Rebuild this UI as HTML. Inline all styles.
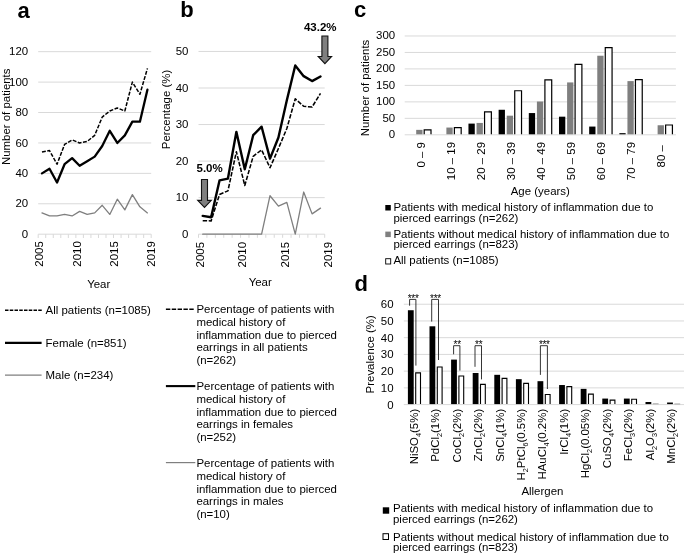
<!DOCTYPE html>
<html lang="en"><head><meta charset="utf-8"><title>Figure</title>
<style>
html,body{margin:0;padding:0;background:#fff;}
body{width:685px;height:557px;overflow:hidden;}
svg{display:block;will-change:transform;transform:translateZ(0);font-family:'Liberation Sans', Arial, sans-serif;fill:#000;}
svg text{fill:#000;}
</style></head><body>
<svg width="685" height="557" viewBox="0 0 685 557" font-family="&quot;Liberation Sans&quot;, Arial, sans-serif">
<rect x="0" y="0" width="685" height="557" fill="#fff"/>
<text x="17.60" y="17.60" text-anchor="start" font-size="22" font-weight="bold" >a</text>
<text x="180.30" y="17.30" text-anchor="start" font-size="22" font-weight="bold" >b</text>
<text x="354.00" y="16.70" text-anchor="start" font-size="22" font-weight="bold" >c</text>
<text x="354.40" y="290.60" text-anchor="start" font-size="22" font-weight="bold" >d</text>
<line x1="38.20" y1="234.20" x2="151.20" y2="234.20" stroke="#d9d9d9" stroke-width="1"/>
<text x="28.20" y="237.90" text-anchor="end" font-size="11.45" font-weight="normal" >0</text>
<line x1="38.20" y1="203.78" x2="151.20" y2="203.78" stroke="#d9d9d9" stroke-width="1"/>
<text x="28.20" y="207.48" text-anchor="end" font-size="11.45" font-weight="normal" >20</text>
<line x1="38.20" y1="173.36" x2="151.20" y2="173.36" stroke="#d9d9d9" stroke-width="1"/>
<text x="28.20" y="177.06" text-anchor="end" font-size="11.45" font-weight="normal" >40</text>
<line x1="38.20" y1="142.94" x2="151.20" y2="142.94" stroke="#d9d9d9" stroke-width="1"/>
<text x="28.20" y="146.64" text-anchor="end" font-size="11.45" font-weight="normal" >60</text>
<line x1="38.20" y1="112.52" x2="151.20" y2="112.52" stroke="#d9d9d9" stroke-width="1"/>
<text x="28.20" y="116.22" text-anchor="end" font-size="11.45" font-weight="normal" >80</text>
<line x1="38.20" y1="82.10" x2="151.20" y2="82.10" stroke="#d9d9d9" stroke-width="1"/>
<text x="28.20" y="85.80" text-anchor="end" font-size="11.45" font-weight="normal" >100</text>
<line x1="38.20" y1="51.68" x2="151.20" y2="51.68" stroke="#d9d9d9" stroke-width="1"/>
<text x="28.20" y="55.38" text-anchor="end" font-size="11.45" font-weight="normal" >120</text>
<line x1="38.20" y1="234.20" x2="38.20" y2="238.00" stroke="#d9d9d9" stroke-width="1"/>
<line x1="45.73" y1="234.20" x2="45.73" y2="238.00" stroke="#d9d9d9" stroke-width="1"/>
<line x1="53.27" y1="234.20" x2="53.27" y2="238.00" stroke="#d9d9d9" stroke-width="1"/>
<line x1="60.80" y1="234.20" x2="60.80" y2="238.00" stroke="#d9d9d9" stroke-width="1"/>
<line x1="68.33" y1="234.20" x2="68.33" y2="238.00" stroke="#d9d9d9" stroke-width="1"/>
<line x1="75.87" y1="234.20" x2="75.87" y2="238.00" stroke="#d9d9d9" stroke-width="1"/>
<line x1="83.40" y1="234.20" x2="83.40" y2="238.00" stroke="#d9d9d9" stroke-width="1"/>
<line x1="90.93" y1="234.20" x2="90.93" y2="238.00" stroke="#d9d9d9" stroke-width="1"/>
<line x1="98.47" y1="234.20" x2="98.47" y2="238.00" stroke="#d9d9d9" stroke-width="1"/>
<line x1="106.00" y1="234.20" x2="106.00" y2="238.00" stroke="#d9d9d9" stroke-width="1"/>
<line x1="113.53" y1="234.20" x2="113.53" y2="238.00" stroke="#d9d9d9" stroke-width="1"/>
<line x1="121.07" y1="234.20" x2="121.07" y2="238.00" stroke="#d9d9d9" stroke-width="1"/>
<line x1="128.60" y1="234.20" x2="128.60" y2="238.00" stroke="#d9d9d9" stroke-width="1"/>
<line x1="136.13" y1="234.20" x2="136.13" y2="238.00" stroke="#d9d9d9" stroke-width="1"/>
<line x1="143.67" y1="234.20" x2="143.67" y2="238.00" stroke="#d9d9d9" stroke-width="1"/>
<line x1="151.20" y1="234.20" x2="151.20" y2="238.00" stroke="#d9d9d9" stroke-width="1"/>
<text transform="translate(43.40 241.20) rotate(-90)" text-anchor="end" font-size="11.45" font-weight="normal" >2005</text>
<text transform="translate(80.60 241.20) rotate(-90)" text-anchor="end" font-size="11.45" font-weight="normal" >2010</text>
<text transform="translate(117.80 241.20) rotate(-90)" text-anchor="end" font-size="11.45" font-weight="normal" >2015</text>
<text transform="translate(155.40 241.20) rotate(-90)" text-anchor="end" font-size="11.45" font-weight="normal" >2019</text>
<text transform="translate(9.80 116.80) rotate(-90)" text-anchor="middle" font-size="11.45" font-weight="normal" >Number of patients</text>
<text x="98.70" y="288.10" text-anchor="middle" font-size="11.45" font-weight="normal" >Year</text>
<polyline points="41.97,212.91 49.50,215.95 57.03,215.95 64.57,214.43 72.10,215.95 79.63,211.38 87.17,214.43 94.70,212.91 102.23,205.30 109.77,214.43 117.30,199.22 124.83,209.86 132.37,194.65 139.90,206.82 147.43,212.91" fill="none" stroke="#7f7f7f" stroke-width="1.3" stroke-linejoin="round" stroke-linecap="round"/>
<polyline points="41.97,173.36 49.50,168.80 57.03,182.49 64.57,164.23 72.10,158.15 79.63,165.75 87.17,161.19 94.70,156.63 102.23,145.98 109.77,130.77 117.30,142.94 124.83,135.33 132.37,121.65 139.90,121.65 147.43,89.70" fill="none" stroke="#000" stroke-width="2.3" stroke-linejoin="round" stroke-linecap="round"/>
<polyline points="41.97,152.07 49.50,150.54 57.03,164.23 64.57,144.46 72.10,139.90 79.63,142.94 87.17,141.42 94.70,135.33 102.23,117.08 109.77,111.00 117.30,107.96 124.83,111.00 132.37,82.10 139.90,94.27 147.43,68.41" fill="none" stroke="#000" stroke-width="1.5" stroke-linejoin="round" stroke-dasharray="3.9 1.5"/>
<line x1="5" y1="310.2" x2="41.8" y2="310.2" stroke="#000" stroke-width="1.5" stroke-dasharray="3.5 1.25"/>
<text x="45.60" y="314.00" text-anchor="start" font-size="11.45" font-weight="normal" >All patients (n=1085)</text>
<line x1="5" y1="342.9" x2="41.6" y2="342.9" stroke="#000" stroke-width="2.1"/>
<text x="45.60" y="346.50" text-anchor="start" font-size="11.45" font-weight="normal" >Female (n=851)</text>
<line x1="5" y1="375.1" x2="41.6" y2="375.1" stroke="#7f7f7f" stroke-width="1.2"/>
<text x="45.60" y="378.90" text-anchor="start" font-size="11.45" font-weight="normal" >Male (n=234)</text>
<line x1="198.50" y1="234.20" x2="324.70" y2="234.20" stroke="#d9d9d9" stroke-width="1"/>
<text x="188.40" y="237.80" text-anchor="end" font-size="11.45" font-weight="normal" >0</text>
<line x1="198.50" y1="197.65" x2="324.70" y2="197.65" stroke="#d9d9d9" stroke-width="1"/>
<text x="188.40" y="201.25" text-anchor="end" font-size="11.45" font-weight="normal" >10</text>
<line x1="198.50" y1="161.10" x2="324.70" y2="161.10" stroke="#d9d9d9" stroke-width="1"/>
<text x="188.40" y="164.70" text-anchor="end" font-size="11.45" font-weight="normal" >20</text>
<line x1="198.50" y1="124.55" x2="324.70" y2="124.55" stroke="#d9d9d9" stroke-width="1"/>
<text x="188.40" y="128.15" text-anchor="end" font-size="11.45" font-weight="normal" >30</text>
<line x1="198.50" y1="88.00" x2="324.70" y2="88.00" stroke="#d9d9d9" stroke-width="1"/>
<text x="188.40" y="91.60" text-anchor="end" font-size="11.45" font-weight="normal" >40</text>
<line x1="198.50" y1="51.45" x2="324.70" y2="51.45" stroke="#d9d9d9" stroke-width="1"/>
<text x="188.40" y="55.05" text-anchor="end" font-size="11.45" font-weight="normal" >50</text>
<line x1="198.50" y1="234.20" x2="198.50" y2="237.80" stroke="#d9d9d9" stroke-width="1"/>
<line x1="206.91" y1="234.20" x2="206.91" y2="237.80" stroke="#d9d9d9" stroke-width="1"/>
<line x1="215.33" y1="234.20" x2="215.33" y2="237.80" stroke="#d9d9d9" stroke-width="1"/>
<line x1="223.74" y1="234.20" x2="223.74" y2="237.80" stroke="#d9d9d9" stroke-width="1"/>
<line x1="232.15" y1="234.20" x2="232.15" y2="237.80" stroke="#d9d9d9" stroke-width="1"/>
<line x1="240.57" y1="234.20" x2="240.57" y2="237.80" stroke="#d9d9d9" stroke-width="1"/>
<line x1="248.98" y1="234.20" x2="248.98" y2="237.80" stroke="#d9d9d9" stroke-width="1"/>
<line x1="257.39" y1="234.20" x2="257.39" y2="237.80" stroke="#d9d9d9" stroke-width="1"/>
<line x1="265.81" y1="234.20" x2="265.81" y2="237.80" stroke="#d9d9d9" stroke-width="1"/>
<line x1="274.22" y1="234.20" x2="274.22" y2="237.80" stroke="#d9d9d9" stroke-width="1"/>
<line x1="282.63" y1="234.20" x2="282.63" y2="237.80" stroke="#d9d9d9" stroke-width="1"/>
<line x1="291.05" y1="234.20" x2="291.05" y2="237.80" stroke="#d9d9d9" stroke-width="1"/>
<line x1="299.46" y1="234.20" x2="299.46" y2="237.80" stroke="#d9d9d9" stroke-width="1"/>
<line x1="307.87" y1="234.20" x2="307.87" y2="237.80" stroke="#d9d9d9" stroke-width="1"/>
<line x1="316.29" y1="234.20" x2="316.29" y2="237.80" stroke="#d9d9d9" stroke-width="1"/>
<line x1="324.70" y1="234.20" x2="324.70" y2="237.80" stroke="#d9d9d9" stroke-width="1"/>
<text transform="translate(204.30 242.00) rotate(-90)" text-anchor="end" font-size="11.45" font-weight="normal" >2005</text>
<text transform="translate(246.10 242.00) rotate(-90)" text-anchor="end" font-size="11.45" font-weight="normal" >2010</text>
<text transform="translate(288.60 242.00) rotate(-90)" text-anchor="end" font-size="11.45" font-weight="normal" >2015</text>
<text transform="translate(331.50 242.00) rotate(-90)" text-anchor="end" font-size="11.45" font-weight="normal" >2019</text>
<text transform="translate(169.80 109.50) rotate(-90)" text-anchor="middle" font-size="11.45" font-weight="normal" >Percentage (%)</text>
<text x="260.20" y="286.20" text-anchor="middle" font-size="11.45" font-weight="normal" >Year</text>
<polyline points="202.71,234.20 211.12,234.20 219.53,234.20 227.95,234.20 236.36,234.20 244.77,234.20 253.19,234.20 261.60,234.20 270.01,195.73 278.43,206.08 286.84,202.42 295.25,234.20 303.67,192.03 312.08,213.89 320.49,208.09" fill="none" stroke="#7f7f7f" stroke-width="1.3" stroke-linejoin="round" stroke-linecap="round"/>
<polyline points="202.71,220.66 211.12,220.91 219.53,194.47 227.95,190.84 236.36,151.67 244.77,185.47 253.19,156.31 261.60,149.85 270.01,167.75 278.43,148.47 286.84,128.51 295.25,98.83 303.67,106.27 312.08,107.07 320.49,93.37" fill="none" stroke="#000" stroke-width="1.55" stroke-linejoin="round" stroke-dasharray="4.4 1.6"/>
<polyline points="202.71,215.92 211.12,217.20 219.53,180.45 227.95,178.58 236.36,131.86 244.77,169.22 253.19,135.21 261.60,126.70 270.01,158.58 278.43,137.45 286.84,100.18 295.25,65.51 303.67,76.15 312.08,81.09 320.49,76.46" fill="none" stroke="#000" stroke-width="2.4" stroke-linejoin="round" stroke-linecap="round"/>
<polygon points="321.90,36.0 327.90,36.0 327.90,56.5 331.60,56.5 324.90,63.6 318.20,56.5 321.90,56.5" fill="#7f7f7f" stroke="#111" stroke-width="1.1" stroke-linejoin="miter"/>
<polygon points="201.50,179.5 207.50,179.5 207.50,200.4 211.30,200.4 204.50,207.4 197.70,200.4 201.50,200.4" fill="#7f7f7f" stroke="#111" stroke-width="1.1" stroke-linejoin="miter"/>
<text x="320.20" y="30.90" text-anchor="middle" font-size="11.5" font-weight="bold" >43.2%</text>
<text x="209.60" y="172.30" text-anchor="middle" font-size="11.5" font-weight="bold" >5.0%</text>
<line x1="165.9" y1="309.2" x2="193.8" y2="309.2" stroke="#000" stroke-width="1.5" stroke-dasharray="4.4 1.45"/>
<text x="196.40" y="313.20" text-anchor="start" font-size="11.45" font-weight="normal" >Percentage of patients with</text>
<text x="196.40" y="325.85" text-anchor="start" font-size="11.45" font-weight="normal" >medical history of</text>
<text x="196.40" y="338.50" text-anchor="start" font-size="11.45" font-weight="normal" >inflammation due to pierced</text>
<text x="196.40" y="351.15" text-anchor="start" font-size="11.45" font-weight="normal" >earrings in all patients</text>
<text x="196.40" y="363.80" text-anchor="start" font-size="11.45" font-weight="normal" >(n=262)</text>
<line x1="165.9" y1="386.1" x2="195.3" y2="386.1" stroke="#000" stroke-width="2.1"/>
<text x="196.40" y="390.20" text-anchor="start" font-size="11.45" font-weight="normal" >Percentage of patients with</text>
<text x="196.40" y="402.85" text-anchor="start" font-size="11.45" font-weight="normal" >medical history of</text>
<text x="196.40" y="415.50" text-anchor="start" font-size="11.45" font-weight="normal" >inflammation due to pierced</text>
<text x="196.40" y="428.15" text-anchor="start" font-size="11.45" font-weight="normal" >earrings in females</text>
<text x="196.40" y="440.80" text-anchor="start" font-size="11.45" font-weight="normal" >(n=252)</text>
<line x1="165.9" y1="462.6" x2="195.3" y2="462.6" stroke="#7f7f7f" stroke-width="1.2"/>
<text x="196.40" y="467.20" text-anchor="start" font-size="11.45" font-weight="normal" >Percentage of patients with</text>
<text x="196.40" y="479.85" text-anchor="start" font-size="11.45" font-weight="normal" >medical history of</text>
<text x="196.40" y="492.50" text-anchor="start" font-size="11.45" font-weight="normal" >inflammation due to pierced</text>
<text x="196.40" y="505.15" text-anchor="start" font-size="11.45" font-weight="normal" >earrings in males</text>
<text x="196.40" y="517.80" text-anchor="start" font-size="11.45" font-weight="normal" >(n=10)</text>
<line x1="404.70" y1="134.80" x2="675.90" y2="134.80" stroke="#d9d9d9" stroke-width="1"/>
<text x="395.20" y="138.30" text-anchor="end" font-size="11.45" font-weight="normal" >0</text>
<line x1="404.70" y1="118.33" x2="675.90" y2="118.33" stroke="#d9d9d9" stroke-width="1"/>
<text x="395.20" y="121.83" text-anchor="end" font-size="11.45" font-weight="normal" >50</text>
<line x1="404.70" y1="101.86" x2="675.90" y2="101.86" stroke="#d9d9d9" stroke-width="1"/>
<text x="395.20" y="105.36" text-anchor="end" font-size="11.45" font-weight="normal" >100</text>
<line x1="404.70" y1="85.39" x2="675.90" y2="85.39" stroke="#d9d9d9" stroke-width="1"/>
<text x="395.20" y="88.89" text-anchor="end" font-size="11.45" font-weight="normal" >150</text>
<line x1="404.70" y1="68.92" x2="675.90" y2="68.92" stroke="#d9d9d9" stroke-width="1"/>
<text x="395.20" y="72.42" text-anchor="end" font-size="11.45" font-weight="normal" >200</text>
<line x1="404.70" y1="52.45" x2="675.90" y2="52.45" stroke="#d9d9d9" stroke-width="1"/>
<text x="395.20" y="55.95" text-anchor="end" font-size="11.45" font-weight="normal" >250</text>
<line x1="404.70" y1="35.98" x2="675.90" y2="35.98" stroke="#d9d9d9" stroke-width="1"/>
<text x="395.20" y="39.48" text-anchor="end" font-size="11.45" font-weight="normal" >300</text>
<rect x="416.20" y="129.86" width="6.3" height="4.44" fill="#7f7f7f"/>
<rect x="424.20" y="129.96" width="6.80" height="4.34" fill="#fff"/>
<path d="M424.20 134.30V129.96H431.00V134.30" fill="none" stroke="#000" stroke-width="1.2"/>
<rect x="446.38" y="127.55" width="6.3" height="6.75" fill="#7f7f7f"/>
<rect x="454.38" y="127.65" width="6.80" height="6.65" fill="#fff"/>
<path d="M454.38 134.30V127.65H461.18V134.30" fill="none" stroke="#000" stroke-width="1.2"/>
<rect x="468.46" y="123.60" width="6.3" height="10.70" fill="#000"/>
<rect x="476.56" y="122.94" width="6.3" height="11.36" fill="#7f7f7f"/>
<rect x="484.56" y="111.84" width="6.80" height="22.46" fill="#fff"/>
<path d="M484.56 134.30V111.84H491.36V134.30" fill="none" stroke="#000" stroke-width="1.2"/>
<rect x="498.63" y="109.77" width="6.3" height="24.53" fill="#000"/>
<rect x="506.73" y="115.69" width="6.3" height="18.61" fill="#7f7f7f"/>
<rect x="514.73" y="90.76" width="6.80" height="43.54" fill="#fff"/>
<path d="M514.73 134.30V90.76H521.53V134.30" fill="none" stroke="#000" stroke-width="1.2"/>
<rect x="528.81" y="113.06" width="6.3" height="21.24" fill="#000"/>
<rect x="536.91" y="101.53" width="6.3" height="32.77" fill="#7f7f7f"/>
<rect x="544.91" y="79.89" width="6.80" height="54.41" fill="#fff"/>
<path d="M544.91 134.30V79.89H551.71V134.30" fill="none" stroke="#000" stroke-width="1.2"/>
<rect x="558.99" y="116.68" width="6.3" height="17.62" fill="#000"/>
<rect x="567.09" y="82.43" width="6.3" height="51.87" fill="#7f7f7f"/>
<rect x="575.09" y="64.41" width="6.80" height="69.89" fill="#fff"/>
<path d="M575.09 134.30V64.41H581.89V134.30" fill="none" stroke="#000" stroke-width="1.2"/>
<rect x="589.17" y="126.57" width="6.3" height="7.73" fill="#000"/>
<rect x="597.27" y="55.74" width="6.3" height="78.56" fill="#7f7f7f"/>
<rect x="605.27" y="47.61" width="6.80" height="86.69" fill="#fff"/>
<path d="M605.27 134.30V47.61H612.07V134.30" fill="none" stroke="#000" stroke-width="1.2"/>
<rect x="619.34" y="133.15" width="6.3" height="1.15" fill="#000"/>
<rect x="627.44" y="81.11" width="6.3" height="53.19" fill="#7f7f7f"/>
<rect x="635.44" y="79.56" width="6.80" height="54.74" fill="#fff"/>
<path d="M635.44 134.30V79.56H642.24V134.30" fill="none" stroke="#000" stroke-width="1.2"/>
<rect x="657.62" y="125.25" width="6.3" height="9.05" fill="#7f7f7f"/>
<rect x="665.62" y="125.02" width="6.80" height="9.28" fill="#fff"/>
<path d="M665.62 134.30V125.02H672.42V134.30" fill="none" stroke="#000" stroke-width="1.2"/>
<text transform="translate(424.50 142.00) rotate(-90)" text-anchor="end" font-size="11.45" font-weight="normal" xml:space="preserve">0 – 9</text>
<text transform="translate(454.60 142.00) rotate(-90)" text-anchor="end" font-size="11.45" font-weight="normal" xml:space="preserve">10 – 19</text>
<text transform="translate(484.70 142.00) rotate(-90)" text-anchor="end" font-size="11.45" font-weight="normal" xml:space="preserve">20 – 29</text>
<text transform="translate(514.80 142.00) rotate(-90)" text-anchor="end" font-size="11.45" font-weight="normal" xml:space="preserve">30 – 39</text>
<text transform="translate(544.90 142.00) rotate(-90)" text-anchor="end" font-size="11.45" font-weight="normal" xml:space="preserve">40 – 49</text>
<text transform="translate(575.00 142.00) rotate(-90)" text-anchor="end" font-size="11.45" font-weight="normal" xml:space="preserve">50 – 59</text>
<text transform="translate(605.10 142.00) rotate(-90)" text-anchor="end" font-size="11.45" font-weight="normal" xml:space="preserve">60 – 69</text>
<text transform="translate(635.20 142.00) rotate(-90)" text-anchor="end" font-size="11.45" font-weight="normal" xml:space="preserve">70 – 79</text>
<text transform="translate(665.30 142.00) rotate(-90)" text-anchor="end" font-size="11.45" font-weight="normal" xml:space="preserve">80 – </text>
<text transform="translate(368.80 88.00) rotate(-90)" text-anchor="middle" font-size="11.45" font-weight="normal" >Number of patients</text>
<text x="540.30" y="194.70" text-anchor="middle" font-size="11.45" font-weight="normal" >Age (years)</text>
<rect x="385.3" y="205.0" width="5.5" height="5.5" fill="#000"/>
<text x="393.40" y="211.20" text-anchor="start" font-size="11.45" font-weight="normal" >Patients with medical history of inflammation due to</text>
<text x="393.40" y="221.80" text-anchor="start" font-size="11.45" font-weight="normal" >pierced earrings (n=262)</text>
<rect x="385.3" y="231.6" width="5.5" height="5.5" fill="#7f7f7f"/>
<text x="393.40" y="238.00" text-anchor="start" font-size="11.45" font-weight="normal" >Patients without medical history of inflammation due to</text>
<text x="393.40" y="248.30" text-anchor="start" font-size="11.45" font-weight="normal" >pierced earrings (n=823)</text>
<rect x="385.7" y="258.7" width="5.0" height="5.3" fill="#fff" stroke="#000" stroke-width="0.9"/>
<text x="393.40" y="264.00" text-anchor="start" font-size="11.45" font-weight="normal" >All patients (n=1085)</text>
<line x1="403.80" y1="404.60" x2="684.00" y2="404.60" stroke="#d9d9d9" stroke-width="1"/>
<text x="393.60" y="408.60" text-anchor="end" font-size="11.45" font-weight="normal" >0</text>
<line x1="403.80" y1="387.87" x2="684.00" y2="387.87" stroke="#d9d9d9" stroke-width="1"/>
<text x="393.60" y="391.87" text-anchor="end" font-size="11.45" font-weight="normal" >10</text>
<line x1="403.80" y1="371.14" x2="684.00" y2="371.14" stroke="#d9d9d9" stroke-width="1"/>
<text x="393.60" y="375.14" text-anchor="end" font-size="11.45" font-weight="normal" >20</text>
<line x1="403.80" y1="354.41" x2="684.00" y2="354.41" stroke="#d9d9d9" stroke-width="1"/>
<text x="393.60" y="358.41" text-anchor="end" font-size="11.45" font-weight="normal" >30</text>
<line x1="403.80" y1="337.68" x2="684.00" y2="337.68" stroke="#d9d9d9" stroke-width="1"/>
<text x="393.60" y="341.68" text-anchor="end" font-size="11.45" font-weight="normal" >40</text>
<line x1="403.80" y1="320.95" x2="684.00" y2="320.95" stroke="#d9d9d9" stroke-width="1"/>
<text x="393.60" y="324.95" text-anchor="end" font-size="11.45" font-weight="normal" >50</text>
<line x1="403.80" y1="304.22" x2="684.00" y2="304.22" stroke="#d9d9d9" stroke-width="1"/>
<text x="393.60" y="308.22" text-anchor="end" font-size="11.45" font-weight="normal" >60</text>
<rect x="407.90" y="310.24" width="5.8" height="93.86" fill="#000"/>
<rect x="415.70" y="372.88" width="4.80" height="31.22" fill="#fff"/>
<path d="M415.70 404.10V372.88H420.50V404.10" fill="none" stroke="#000" stroke-width="1.1"/>
<rect x="429.50" y="326.30" width="5.8" height="77.80" fill="#000"/>
<rect x="437.30" y="367.02" width="4.80" height="37.08" fill="#fff"/>
<path d="M437.30 404.10V367.02H442.10V404.10" fill="none" stroke="#000" stroke-width="1.1"/>
<rect x="451.10" y="359.60" width="5.8" height="44.50" fill="#000"/>
<rect x="458.90" y="376.06" width="4.80" height="28.04" fill="#fff"/>
<path d="M458.90 404.10V376.06H463.70V404.10" fill="none" stroke="#000" stroke-width="1.1"/>
<rect x="472.70" y="372.98" width="5.8" height="31.12" fill="#000"/>
<rect x="480.50" y="384.42" width="4.80" height="19.68" fill="#fff"/>
<path d="M480.50 404.10V384.42H485.30V404.10" fill="none" stroke="#000" stroke-width="1.1"/>
<rect x="494.30" y="374.82" width="5.8" height="29.28" fill="#000"/>
<rect x="502.10" y="378.40" width="4.80" height="25.70" fill="#fff"/>
<path d="M502.10 404.10V378.40H506.90V404.10" fill="none" stroke="#000" stroke-width="1.1"/>
<rect x="515.90" y="379.17" width="5.8" height="24.93" fill="#000"/>
<rect x="523.70" y="383.42" width="4.80" height="20.68" fill="#fff"/>
<path d="M523.70 404.10V383.42H528.50V404.10" fill="none" stroke="#000" stroke-width="1.1"/>
<rect x="537.50" y="381.18" width="5.8" height="22.92" fill="#000"/>
<rect x="545.30" y="394.46" width="4.80" height="9.64" fill="#fff"/>
<path d="M545.30 404.10V394.46H550.10V404.10" fill="none" stroke="#000" stroke-width="1.1"/>
<rect x="559.10" y="385.03" width="5.8" height="19.07" fill="#000"/>
<rect x="566.90" y="386.60" width="4.80" height="17.50" fill="#fff"/>
<path d="M566.90 404.10V386.60H571.70V404.10" fill="none" stroke="#000" stroke-width="1.1"/>
<rect x="580.70" y="388.87" width="5.8" height="15.23" fill="#000"/>
<rect x="588.50" y="394.13" width="4.80" height="9.97" fill="#fff"/>
<path d="M588.50 404.10V394.13H593.30V404.10" fill="none" stroke="#000" stroke-width="1.1"/>
<rect x="602.30" y="398.58" width="5.8" height="5.52" fill="#000"/>
<rect x="610.10" y="400.15" width="4.80" height="3.95" fill="#fff"/>
<path d="M610.10 404.10V400.15H614.90V404.10" fill="none" stroke="#000" stroke-width="1.1"/>
<rect x="623.90" y="398.58" width="5.8" height="5.52" fill="#000"/>
<rect x="631.70" y="399.31" width="4.80" height="4.79" fill="#fff"/>
<path d="M631.70 404.10V399.31H636.50V404.10" fill="none" stroke="#000" stroke-width="1.1"/>
<rect x="645.50" y="402.01" width="5.8" height="2.09" fill="#000"/>
<rect x="652.80" y="403.30" width="5.8" height="1.00" fill="#a6a6a6"/>
<rect x="667.10" y="402.51" width="5.8" height="1.59" fill="#000"/>
<rect x="674.40" y="403.46" width="5.8" height="1.00" fill="#a6a6a6"/>
<text transform="translate(417.80 408.80) rotate(-90)" text-anchor="end" font-size="11.45" font-weight="normal" >NiSO<tspan font-size="7.3" dy="3.0">4</tspan><tspan dy="-3.0">(5%)</tspan></text>
<text transform="translate(439.23 408.80) rotate(-90)" text-anchor="end" font-size="11.45" font-weight="normal" >PdCl<tspan font-size="7.3" dy="3.0">2</tspan><tspan dy="-3.0">(1%)</tspan></text>
<text transform="translate(460.66 408.80) rotate(-90)" text-anchor="end" font-size="11.45" font-weight="normal" >CoCl<tspan font-size="7.3" dy="3.0">2</tspan><tspan dy="-3.0">(2%)</tspan></text>
<text transform="translate(482.09 408.80) rotate(-90)" text-anchor="end" font-size="11.45" font-weight="normal" >ZnCl<tspan font-size="7.3" dy="3.0">2</tspan><tspan dy="-3.0">(2%)</tspan></text>
<text transform="translate(503.52 408.80) rotate(-90)" text-anchor="end" font-size="11.45" font-weight="normal" >SnCl<tspan font-size="7.3" dy="3.0">4</tspan><tspan dy="-3.0">(1%)</tspan></text>
<text transform="translate(524.95 408.80) rotate(-90)" text-anchor="end" font-size="11.45" font-weight="normal" >H<tspan font-size="7.3" dy="3.0">2</tspan><tspan dy="-3.0">PtCl</tspan><tspan font-size="7.3" dy="3.0">6</tspan><tspan dy="-3.0">(0.5%)</tspan></text>
<text transform="translate(546.38 408.80) rotate(-90)" text-anchor="end" font-size="11.45" font-weight="normal" >HAuCl<tspan font-size="7.3" dy="3.0">4</tspan><tspan dy="-3.0">(0.2%)</tspan></text>
<text transform="translate(567.81 408.80) rotate(-90)" text-anchor="end" font-size="11.45" font-weight="normal" >IrCl<tspan font-size="7.3" dy="3.0">4</tspan><tspan dy="-3.0">(1%)</tspan></text>
<text transform="translate(589.24 408.80) rotate(-90)" text-anchor="end" font-size="11.45" font-weight="normal" >HgCl<tspan font-size="7.3" dy="3.0">2</tspan><tspan dy="-3.0">(0.05%)</tspan></text>
<text transform="translate(610.67 408.80) rotate(-90)" text-anchor="end" font-size="11.45" font-weight="normal" >CuSO<tspan font-size="7.3" dy="3.0">4</tspan><tspan dy="-3.0">(2%)</tspan></text>
<text transform="translate(632.10 408.80) rotate(-90)" text-anchor="end" font-size="11.45" font-weight="normal" >FeCl<tspan font-size="7.3" dy="3.0">3</tspan><tspan dy="-3.0">(2%)</tspan></text>
<text transform="translate(653.53 408.80) rotate(-90)" text-anchor="end" font-size="11.45" font-weight="normal" >Al<tspan font-size="7.3" dy="3.0">2</tspan><tspan dy="-3.0">O</tspan><tspan font-size="7.3" dy="3.0">3</tspan><tspan dy="-3.0">(2%)</tspan></text>
<text transform="translate(674.96 408.80) rotate(-90)" text-anchor="end" font-size="11.45" font-weight="normal" >MnCl<tspan font-size="7.3" dy="3.0">2</tspan><tspan dy="-3.0">(2%)</tspan></text>
<text transform="translate(374.30 354.30) rotate(-90)" text-anchor="middle" font-size="11.45" font-weight="normal" >Prevalence (%)</text>
<text x="542.40" y="494.50" text-anchor="middle" font-size="11.45" font-weight="normal" >Allergen</text>
<polyline points="409.6,305.7 409.6,299.4 415.9,299.4 415.9,365.6" fill="none" stroke="#111" stroke-width="0.85"/>
<text x="413.15" y="302.20" text-anchor="middle" font-size="10" font-weight="normal" letter-spacing="-0.3">***</text>
<polyline points="431.7,321.6 431.7,299.4 438.5,299.4 438.5,360.0" fill="none" stroke="#111" stroke-width="0.85"/>
<text x="435.50" y="302.20" text-anchor="middle" font-size="10" font-weight="normal" letter-spacing="-0.3">***</text>
<polyline points="453.6,354.3 453.6,345.7 459.9,345.7 459.9,370.6" fill="none" stroke="#111" stroke-width="0.85"/>
<text x="457.15" y="348.00" text-anchor="middle" font-size="10" font-weight="normal" letter-spacing="-0.3">**</text>
<polyline points="475.0,366.8 475.0,345.7 481.5,345.7 481.5,379.4" fill="none" stroke="#111" stroke-width="0.85"/>
<text x="478.65" y="348.00" text-anchor="middle" font-size="10" font-weight="normal" letter-spacing="-0.3">**</text>
<polyline points="540.4,374.9 540.4,345.7 547.4,345.7 547.4,389.0" fill="none" stroke="#111" stroke-width="0.85"/>
<text x="544.30" y="348.00" text-anchor="middle" font-size="10" font-weight="normal" letter-spacing="-0.3">***</text>
<rect x="382.8" y="507.3" width="6.4" height="6.4" fill="#000"/>
<text x="393.00" y="512.00" text-anchor="start" font-size="11.45" font-weight="normal" >Patients with medical history of inflammation due to</text>
<text x="393.00" y="522.50" text-anchor="start" font-size="11.45" font-weight="normal" >pierced earrings (n=262)</text>
<rect x="383.0" y="533.7" width="5.5" height="5.8" fill="#fff" stroke="#000" stroke-width="1"/>
<text x="393.00" y="540.50" text-anchor="start" font-size="11.45" font-weight="normal" >Patients without medical history of inflammation due to</text>
<text x="393.00" y="550.70" text-anchor="start" font-size="11.45" font-weight="normal" >pierced earrings (n=823)</text>
</svg>
</body></html>
